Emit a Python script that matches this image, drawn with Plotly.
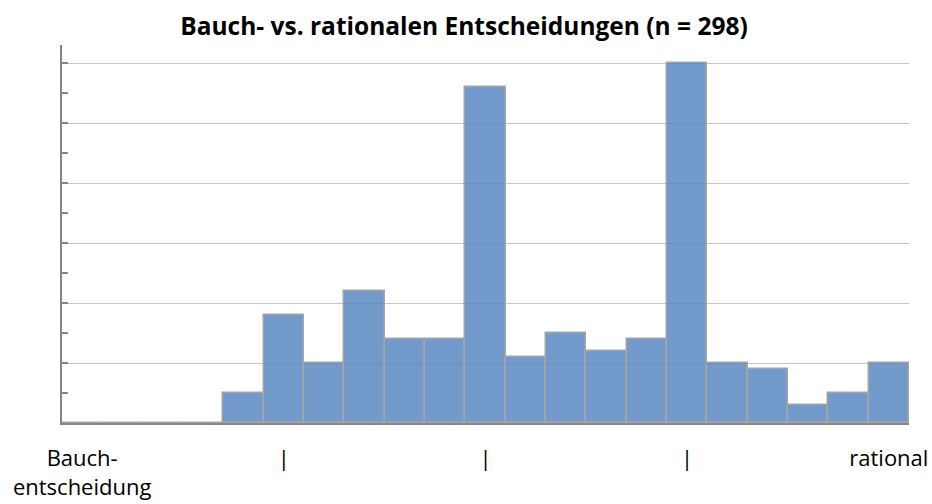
import plotly.graph_objects as go

bins = list(range(21))
counts = [0, 0, 0, 0, 5, 18, 10, 22, 14, 14, 56, 11, 15, 12, 14, 60, 10, 9, 3, 5, 10]
tick_positions = [0, 5, 10, 15, 20]
tick_labels = ["Bauch-<br>entscheidung", "|", "|", "|", "rational"]
title_text = "<b>Bauch- vs. rationalen Entscheidungen (n = 298)</b>"

W, H = 932, 504

fig = go.Figure(go.Bar(
    x=bins, y=counts,
    marker=dict(color="rgba(79,129,189,0.8)", line=dict(color="#A5A5A5", width=1.5)),
    hoverinfo="x+y",
))

fig.update_layout(
    width=W, height=H,
    margin=dict(l=62, r=23, t=45, b=81, autoexpand=False),
    paper_bgcolor="white", plot_bgcolor="white",
    bargap=0,
    showlegend=False,
    font=dict(family="Open Sans, Lato, sans-serif", color="#000000"),
    title=dict(text=title_text, x=464 / W, xanchor="center", xref="container",
               y=1 - 26 / H, yanchor="middle", yref="container", automargin=False,
               font=dict(size=24.5, family="Open Sans, Lato, sans-serif", color="#000000")),
)
fig.update_xaxes(
    range=[-0.5, 20.5], tickmode="array", tickvals=tick_positions, ticktext=tick_labels,
    showline=True, linecolor="#868686", linewidth=2, ticks="", showgrid=False,
    tickfont=dict(size=22, color="#000000"), ticklabelstandoff=15, zeroline=False,
    automargin=False,
)
fig.update_yaxes(
    range=[0, 63], dtick=10, tick0=0, showgrid=True, gridcolor="#C6C6C6", gridwidth=1,
    showline=True, linecolor="#868686", linewidth=2,
    ticks="inside", ticklen=6, tickcolor="#868686", tickwidth=1.5,
    minor=dict(dtick=5, ticks="inside", ticklen=6, tickcolor="#868686", tickwidth=1.5, showgrid=False),
    showticklabels=False, zeroline=False, automargin=False,
)

fig.write_html("out.html",
               config={"displayModeBar": False},
               post_script="document.body.style.margin='0';document.body.style.overflow='hidden';")
